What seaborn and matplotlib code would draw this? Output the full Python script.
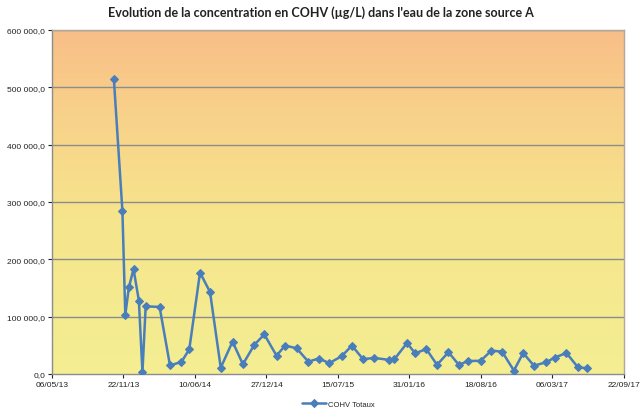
import numpy as np
import pandas as pd
import matplotlib
matplotlib.use("Agg")
import matplotlib.pyplot as plt
from matplotlib.colors import LinearSegmentedColormap
import seaborn as sns

# ---- data ----
start_date = "2013-05-06"
days_since_start = [173, 197, 205, 215, 228, 243, 253, 262, 301, 330, 362, 384, 414, 442,
                    472, 505, 534, 566, 594, 628, 652, 684, 717, 746, 776, 810, 839, 870,
                    902, 944, 958, 993, 1016, 1047, 1077, 1109, 1138, 1164, 1199, 1229,
                    1259, 1292, 1318, 1348, 1382, 1406, 1439, 1471, 1496]
cohv_totaux = [515000, 284000, 103000, 151000, 183000, 128000, 3000, 118000, 117000,
               15000, 21000, 43000, 177000, 143000, 11000, 56500, 17000, 51000, 69000,
               32000, 49500, 45000, 21500, 27000, 19000, 31000, 49500, 26000, 28000,
               24500, 26000, 54000, 36000, 43500, 16000, 38000, 16000, 22700, 23000,
               40800, 39000, 6000, 36700, 14500, 20400, 28600, 36700, 11700, 10000]
series_name = "COHV Totaux"
title = "Evolution de la concentration en COHV (µg/L) dans l'eau de la zone source A"
y_ticks = [0, 100000, 200000, 300000, 400000, 500000, 600000]
x_tick_labels = ["06/05/13", "22/11/13", "10/06/14", "27/12/14", "15/07/15",
                 "31/01/16", "18/08/16", "06/03/17", "22/09/17"]

df = pd.DataFrame({
    "date": pd.Timestamp(start_date) + pd.to_timedelta(days_since_start, unit="D"),
    "value": cohv_totaux,
    "serie": series_name,
})

sns.set_theme(style="white")
plt.rcParams["font.family"] = ["Liberation Sans", "DejaVu Sans"]

fig = plt.figure(figsize=(6.41, 4.14), dpi=100)
ax = fig.add_axes([52 / 641, (414 - 375) / 414, (624 - 52) / 641, (375 - 31) / 414])

# gradient background
cmap = LinearSegmentedColormap.from_list(
    "bg", [(0.0, "#F4EE93"), (0.45, "#F6E58C"), (0.75, "#F8D28A"), (1.0, "#F9BE88")])
grad = np.linspace(0, 1, 256).reshape(-1, 1)
ax.imshow(grad, aspect="auto", cmap=cmap, origin="lower",
          extent=[0, 1, 0, 1], transform=ax.transAxes, zorder=0)

xticks = list(pd.to_datetime(x_tick_labels, format="%d/%m/%y"))

for yv in y_ticks[1:]:
    ax.axhline(yv, color="#8C8C8C", lw=1.0, zorder=1)

sns.lineplot(data=df, x="date", y="value", hue="serie", palette=["#4A7EBB"],
             marker="D", markersize=4.5, markeredgecolor="#4A7EBB", linewidth=1.8,
             ax=ax, zorder=3)

ax.set_xlim(xticks[0], xticks[-1])
ax.set_ylim(0, 600000)
ax.set_xticks(xticks)
ax.set_xticklabels(x_tick_labels)
ax.set_yticks(y_ticks)
ax.set_yticklabels([f"{v:,.1f}".replace(",", " ").replace(".", ",") for v in y_ticks])
ax.tick_params(axis="both", labelsize=6, colors="#222222", length=3, width=0.8,
               direction="out", pad=2, bottom=True, left=True)
ax.set_xlabel("")
ax.set_ylabel("")

for side in ["top", "right"]:
    ax.spines[side].set_color("#B0A79C")
    ax.spines[side].set_linewidth(1.0)
for side in ["left", "bottom"]:
    ax.spines[side].set_color("#8C8C8C")
    ax.spines[side].set_linewidth(1.0)

fig.text(0.5, 1 - 13 / 414, title, ha="center", va="center",
         fontsize=9.0, fontweight="bold", family=["Lato", "DejaVu Sans"], color="#222222")

ax.legend(loc="center", bbox_to_anchor=(0.5, -30 / 344), frameon=False,
          fontsize=5.5, handlelength=3.2, handletextpad=0.2, borderpad=0.1)

fig.savefig("out.png", dpi=100)
